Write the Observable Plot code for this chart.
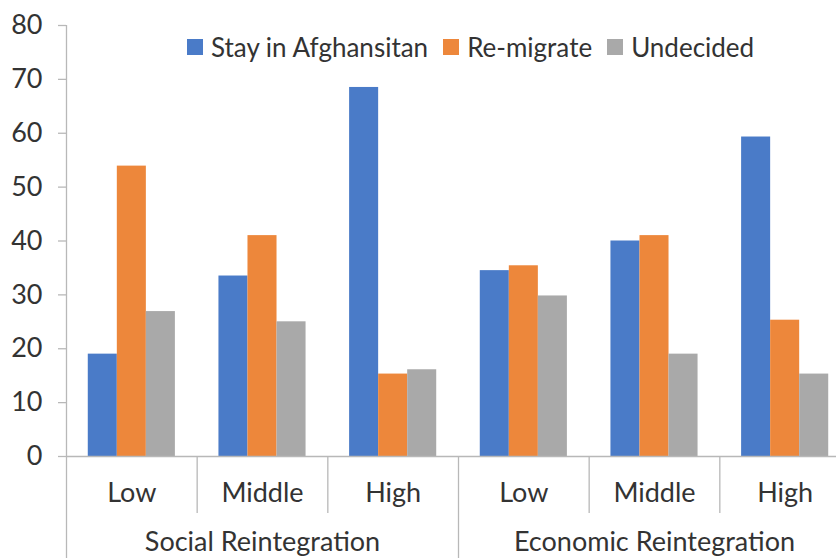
<!DOCTYPE html>
<html>
<head>
<meta charset="utf-8">
<script src="https://cdn.jsdelivr.net/npm/d3@7"></script>
<script src="https://cdn.jsdelivr.net/npm/@observablehq/plot@0.6"></script>
<style>
  html, body { margin: 0; padding: 0; background: #fff; overflow: hidden; }
  #wrap { position: relative; width: 836px; height: 558px; overflow: hidden; font-family: Lato, "Open Sans", sans-serif; color: #333; }
  #wrap svg { max-width: none !important; display: block; }
  #legend { position: absolute; top: 31px; left: 187px; display: flex; align-items: center; font-size: 26px; white-space: nowrap; }
  #legend .item { display: flex; align-items: center; margin-right: 15px; }
  #legend .sw { width: 16px; height: 16px; margin-right: 8px; }
</style>
</head>
<body>
<div id="wrap"><div id="legend"></div></div>
<script>
// Data
const groups = ["Social Reintegration", "Economic Reintegration"];
const levels = ["Low", "Middle", "High", "Low", "Middle", "High"];
const seriesNames = ["Stay in Afghansitan", "Re-migrate", "Undecided"];
const stay      = [19.0, 33.5, 68.5, 34.5, 40.0, 59.3];
const remigrate = [53.9, 41.0, 15.3, 35.4, 41.0, 25.3];
const undecided = [26.9, 25.0, 16.1, 29.8, 19.0, 15.3];
const yTicks = [0, 10, 20, 30, 40, 50, 60, 70, 80];
const colors = ["#4a7bc8", "#ed873b", "#a9a9a9"];

const seriesValues = [stay, remigrate, undecided];
const rows = [];
levels.forEach((lvl, i) => {
  seriesValues.forEach((vals, j) => {
    rows.push({i, j, level: lvl, series: seriesNames[j], value: vals[i]});
  });
});
const catLabels = levels.map((l, i) => ({x: i + 0.5, label: l}));
const groupLabels = groups.map((g, k) => ({x: k * 3 + 1.5, label: g}));

const axisColor = "#b8b8b8";
const textColor = "#333333";
const fontSize = 27;

const chart = Plot.plot({
  width: 850,
  height: 558,
  marginLeft: 66,
  marginRight: 0,
  marginTop: 25,
  marginBottom: 102,
  style: {fontFamily: "Lato, 'Open Sans', sans-serif", fontSize: fontSize + "px", color: textColor, background: "white", overflow: "visible", maxWidth: "none"},
  x: {type: "linear", domain: [0, 6]},
  y: {domain: [0, 80]},
  color: {domain: seriesNames, range: colors},
  marks: [
    Plot.rectY(rows, {
      x1: d => d.i + (0.75 + d.j) / 4.5,
      x2: d => d.i + (1.75 + d.j) / 4.5,
      y1: 0,
      y2: "value",
      fill: "series"
    }),
    Plot.ruleY([0], {stroke: axisColor, strokeWidth: 1.3}),
    Plot.ruleX([0], {stroke: axisColor, strokeWidth: 1.3}),
    Plot.axisY({ticks: yTicks, tickSize: 8, tickPadding: 16, stroke: axisColor, fill: textColor, fontSize: fontSize, label: null, strokeWidth: 1.3}),
    Plot.axisX([1, 2, 4, 5], {tickSize: 57, tickFormat: () => "", stroke: axisColor, label: null, strokeWidth: 1.3}),
    Plot.axisX([0, 3], {tickSize: 102, tickFormat: () => "", stroke: axisColor, label: null, strokeWidth: 1.3}),
    Plot.text(catLabels, {x: "x", text: "label", frameAnchor: "bottom", dy: 37, lineAnchor: "middle", fill: textColor, fontSize: fontSize}),
    Plot.text(groupLabels, {x: "x", text: "label", frameAnchor: "bottom", dy: 86, lineAnchor: "middle", fill: textColor, fontSize: fontSize})
  ]
});
const wrap = document.getElementById("wrap");
wrap.insertBefore(chart, wrap.firstChild);

const legend = document.getElementById("legend");
seriesNames.forEach((name, j) => {
  const item = document.createElement("div");
  item.className = "item";
  const sw = document.createElement("span");
  sw.className = "sw";
  sw.style.background = colors[j];
  const t = document.createElement("span");
  t.textContent = name;
  item.appendChild(sw);
  item.appendChild(t);
  legend.appendChild(item);
});
</script>
</body>
</html>
